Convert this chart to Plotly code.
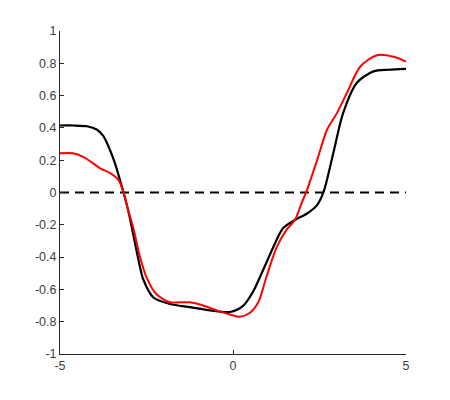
import plotly.graph_objects as go

# Black curve (sample points)
black_x = [-5.0, -4.6, -4.22, -3.94, -3.75, -3.55, -3.41, -3.27, -3.17, -3.03, -2.93, -2.69, -2.59, -2.30, -1.82, -1.24, -0.66, -0.09, 0.30, 0.59, 0.87, 1.16, 1.45, 1.79, 2.14, 2.43, 2.62, 2.90, 3.18, 3.58, 4.06, 4.5, 5.0]
black_y = [0.415, 0.415, 0.41, 0.39, 0.35, 0.26, 0.18, 0.08, 0.005, -0.11, -0.21, -0.46, -0.54, -0.65, -0.69, -0.71, -0.73, -0.74, -0.70, -0.61, -0.48, -0.34, -0.22, -0.17, -0.13, -0.078, 0.005, 0.245, 0.49, 0.68, 0.75, 0.76, 0.765]

# Red curve
red_x = [-5.0, -4.62, -4.33, -4.04, -3.84, -3.55, -3.31, -3.17, -3.03, -2.88, -2.70, -2.49, -2.21, -1.82, -1.53, -1.24, -0.86, -0.47, -0.09, 0.20, 0.49, 0.73, 0.97, 1.26, 1.55, 1.79, 1.98, 2.14, 2.43, 2.72, 3.0, 3.3, 3.68, 4.16, 4.64, 5.0]
red_y = [0.243, 0.243, 0.22, 0.18, 0.15, 0.12, 0.078, 0.005, -0.11, -0.22, -0.39, -0.53, -0.63, -0.68, -0.68, -0.68, -0.70, -0.73, -0.755, -0.77, -0.745, -0.68, -0.52, -0.34, -0.23, -0.17, -0.067, 0.016, 0.2, 0.39, 0.49, 0.62, 0.78, 0.85, 0.84, 0.81]

# Reference line
ref_x = [-5, 5]
ref_y = [0, 0]

x_ticks = [-5, 0, 5]
x_labels = ["-5", "0", "5"]
y_ticks = [-1, -0.8, -0.6, -0.4, -0.2, 0, 0.2, 0.4, 0.6, 0.8, 1]
y_labels = ["-1", "-0.8", "-0.6", "-0.4", "-0.2", "0", "0.2", "0.4", "0.6", "0.8", "1"]

fig = go.Figure()
fig.add_trace(go.Scatter(x=ref_x, y=ref_y, mode="lines",
                         line=dict(color="black", width=2.2, dash="9px,6px"), showlegend=False))
fig.add_trace(go.Scatter(x=black_x, y=black_y, mode="lines",
                         line=dict(color="black", width=2.2, shape="spline", smoothing=0.8), showlegend=False))
fig.add_trace(go.Scatter(x=red_x, y=red_y, mode="lines",
                         line=dict(color="#ff0000", width=2.0, shape="spline", smoothing=0.8), showlegend=False))

axis_common = dict(showgrid=False, zeroline=False, showline=True, linecolor="#262626", linewidth=1,
                   ticks="inside", ticklen=4, tickcolor="#262626",
                   tickfont=dict(family="Liberation Sans, Arial, sans-serif", size=12.5, color="#404040"))

fig.update_xaxes(range=[-5, 5], tickvals=x_ticks, ticktext=x_labels, **axis_common)
fig.update_yaxes(range=[-1, 1], tickvals=y_ticks, ticktext=y_labels, **axis_common)

fig.update_layout(width=442, height=392, margin=dict(l=52, r=44, t=23, b=46, autoexpand=False),
                  plot_bgcolor="white", paper_bgcolor="white")

fig.write_html("out.html")
